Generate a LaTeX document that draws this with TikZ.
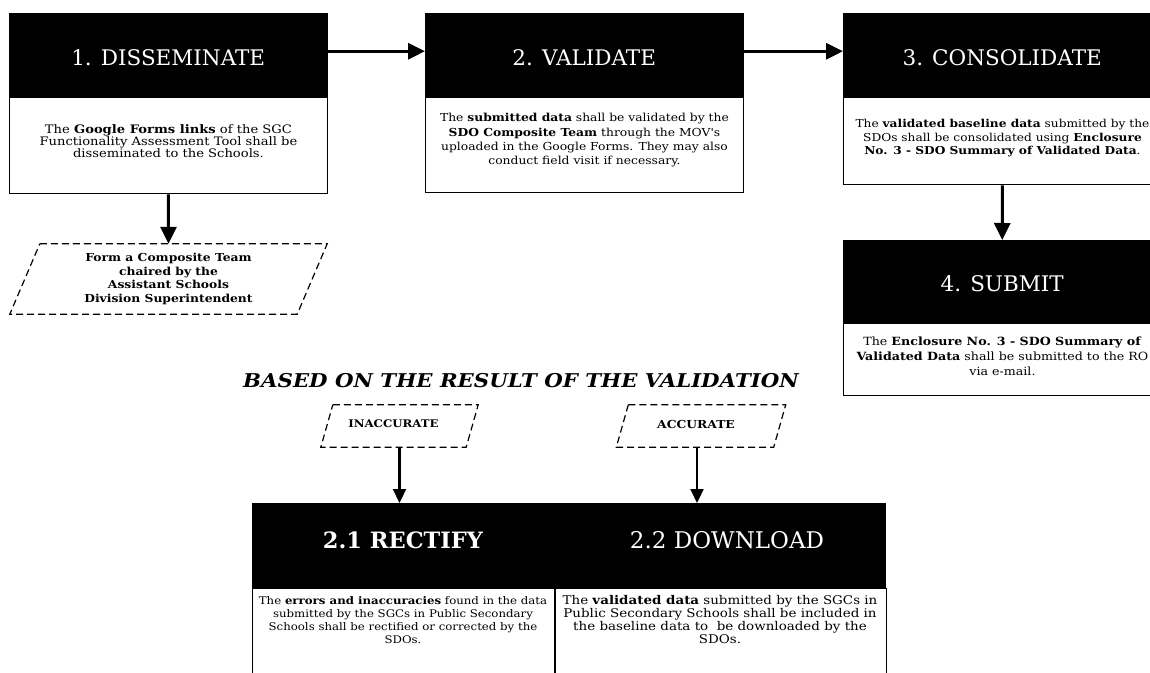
\documentclass[tikz,border=0pt]{standalone}
\usepackage{fontspec}
\setmainfont{DejaVu Serif}
\newfontfamily\widefont{DejaVu Serif}[FakeStretch=1.12]
\usetikzlibrary{arrows.meta}
\begin{document}
\begin{tikzpicture}[x=1pt,y=-1pt,
  hdr/.style={fill=black, draw=black, text=white, inner sep=0pt, anchor=north west},
  bodybox/.style={draw=black, line width=0.9pt, fill=white, inner sep=0pt, anchor=north west},
  btxt/.style 2 args={align=center, inner sep=0pt, font=\widefont\fontsize{#1}{#2}\selectfont},
  htxt/.style={text=white, inner sep=0pt, font=\fontsize{21.5}{26}\selectfont},
  para/.style={inner sep=0pt},
  dashedge/.style={draw=black, line width=1.2pt, dash pattern=on 7pt off 4pt},
  arr/.style={line width=3pt, -{Triangle[length=17pt,width=16pt]}},
  arrs/.style={line width=2.2pt, -{Triangle[length=14pt,width=13pt]}},
]
\useasboundingbox (0,0) rectangle (1150,672);
\clip (0,0) rectangle (1150,672);

% Box 1
\node[hdr, minimum width=318pt, minimum height=84pt] (h1) at (9,13) {};
\node[htxt] (ht1) at ([yshift=-2pt]h1.center) {1. DISSEMINATE};
\node[bodybox, minimum width=318pt, minimum height=96pt] (b1) at (h1.south west) {};
\node[btxt={11.7}{12}] (t1) at ([yshift=5pt]b1.center) {The \textbf{Google Forms links} of the SGC\\ Functionality Assessment Tool shall be\\ disseminated to the Schools.};

% Box 2
\node[hdr, minimum width=318pt, minimum height=84pt] (h2) at (425,13) {};
\node[htxt] (ht2) at ([yshift=-2pt]h2.center) {2. VALIDATE};
\node[bodybox, minimum width=318pt, minimum height=95pt] (b2) at (h2.south west) {};
\node[btxt={11}{14.3}] (t2) at ([yshift=5pt]b2.center) {The \textbf{submitted data} shall be validated by the\\ \textbf{SDO Composite Team} through the MOV's\\ uploaded in the Google Forms. They may also\\ conduct field visit if necessary.};

% Box 3
\node[hdr, minimum width=318pt, minimum height=84pt] (h3) at (843,13) {};
\node[htxt] (ht3) at ([yshift=-2pt]h3.center) {3. CONSOLIDATE};
\node[bodybox, minimum width=318pt, minimum height=87pt] (b3) at (h3.south west) {};
\node[btxt={10.9}{13.5}] (t3) at ([yshift=3pt]b3.center) {The \textbf{validated baseline data} submitted by the\\ SDOs shall be consolidated using \textbf{Enclosure}\\ \textbf{No. 3 - SDO Summary of Validated Data}.};

% Box 4
\node[hdr, minimum width=318pt, minimum height=83pt] (h4) at (843,240) {};
\node[htxt] (ht4) at ([yshift=-2pt]h4.center) {4. SUBMIT};
\node[bodybox, minimum width=318pt, minimum height=72pt] (b4) at (h4.south west) {};
\node[btxt={11.3}{15}] (t4) at ([yshift=4pt]b4.center) {The \textbf{Enclosure No. 3 - SDO Summary of}\\ \textbf{Validated Data} shall be submitted to the RO\\ via e-mail.};

% Composite team parallelogram
\node[para, minimum width=287pt, minimum height=70pt] (f) at (168.5,279) {};
\draw[dashedge] ([xshift=15pt]f.north west) -- ([xshift=15pt]f.north east) -- ([xshift=-15pt]f.south east) -- ([xshift=-15pt]f.south west) -- cycle;
\node[align=center, inner sep=0pt, font=\widefont\fontsize{11}{13.5}\selectfont\bfseries] (ft) at (f.center) {Form a Composite Team\\ chaired by the\\ Assistant Schools\\ Division Superintendent};

% Based on text
\node[inner sep=0pt, font=\widefont\fontsize{19}{22}\selectfont\bfseries\itshape] (based) at (521,381) {BASED ON THE RESULT OF THE VALIDATION};

% Inaccurate / Accurate
\node[para, minimum width=145pt, minimum height=42pt] (ina) at (399.5,426) {};
\draw[dashedge] ([xshift=6pt]ina.north west) -- ([xshift=6pt]ina.north east) -- ([xshift=-6pt]ina.south east) -- ([xshift=-6pt]ina.south west) -- cycle;
\node[inner sep=0pt, font=\widefont\fontsize{10.5}{12}\selectfont\bfseries] (inat) at ([yshift=2pt,xshift=-6pt]ina.center) {INACCURATE};

\node[para, minimum width=157pt, minimum height=42pt] (acc) at (701,426) {};
\draw[dashedge] ([xshift=6pt]acc.north west) -- ([xshift=6pt]acc.north east) -- ([xshift=-6pt]acc.south east) -- ([xshift=-6pt]acc.south west) -- cycle;
\node[inner sep=0pt, font=\widefont\fontsize{11}{12}\selectfont\bfseries] (acct) at ([yshift=2pt,xshift=-5pt]acc.center) {ACCURATE};

% Bottom box
\node[hdr, minimum width=633pt, minimum height=85pt] (hb) at (252,503) {};
\node[htxt, font=\fontsize{22.5}{26}\selectfont\bfseries] (hr) at (403,540) {2.1 RECTIFY};
\node[htxt, font=\fontsize{23}{26}\selectfont] (hd) at (727,540) {2.2 DOWNLOAD};
\node[bodybox, minimum width=302pt, minimum height=100pt] (br) at (hb.south west) {};
\node[bodybox, minimum width=331pt, minimum height=100pt] (bd) at (br.north east) {};
\node[btxt={10.5}{13}] (tr) at (403,620) {The \textbf{errors and inaccuracies} found in the data\\ submitted by the SGCs in Public Secondary\\ Schools shall be rectified or corrected by the\\ SDOs.};
\node[btxt={12}{13}] (td) at (720,620) {The \textbf{validated data} submitted by the SGCs in\\ Public Secondary Schools shall be included in\\ the baseline data to\ \ be downloaded by the\\ SDOs.};

% Connectors
\draw[arr] ([yshift=4pt]h1.east) -- ([yshift=4pt]h2.west);
\draw[arr] ([yshift=4pt]h2.east) -- ([yshift=4pt]h3.west);
\draw[arr] (b1.south) -- (f.north);
\draw[arr] (b3.south) -- (h4.north);
\draw[arrs] (ina.south) -- (ina.south |- hb.north);
\draw[arrs] ([xshift=-4pt]acc.south) -- ([xshift=-4pt]acc.south |- hb.north);
\end{tikzpicture}
\end{document}
